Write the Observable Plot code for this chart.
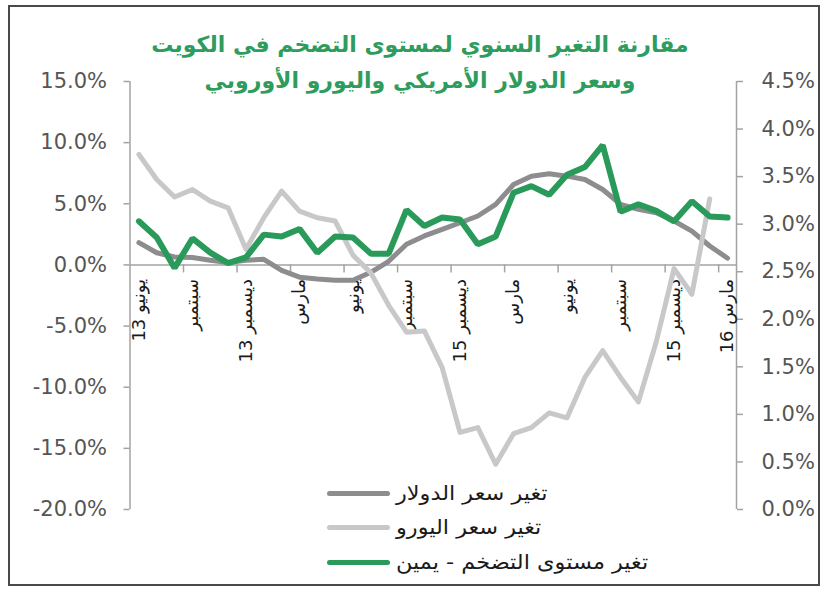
<!DOCTYPE html>
<html>
<head>
<meta charset="utf-8">
<script src="https://cdn.jsdelivr.net/npm/d3@7"></script>
<script src="https://cdn.jsdelivr.net/npm/@observablehq/plot@0.6"></script>
<style>
  html, body { margin: 0; padding: 0; background: #fff; }
  #wrap { position: relative; width: 827px; height: 591px; overflow: hidden; font-family: "DejaVu Sans", sans-serif; }
  #frame { position: absolute; left: 8px; top: 5px; width: 812px; height: 581px; border: 2px solid #4a4a4a; box-sizing: border-box; pointer-events: none; }
  #title { position: absolute; left: 0; width: 840px; top: 27px; text-align: center; color: #2e9c5d; font-weight: bold; font-size: 22px; line-height: 36px; direction: rtl; }
  .lg { position: absolute; left: 327px; height: 24px; display: flex; align-items: center; }
  .sw { width: 63px; height: 5px; border-radius: 3px; margin-right: 6px; }
  .lt { font-size: 20px; color: #1a1a1a; direction: rtl; white-space: nowrap; transform: scaleX(1.12); transform-origin: left center; }
</style>
</head>
<body>
<div id="wrap">
  <div id="chart"></div>
  <div id="title"></div>
  <div id="legend"></div>
  <div id="frame"></div>
</div>
<script>
// ---- data ----
const titleLines = ["مقارنة التغير السنوي لمستوى التضخم في الكويت", "وسعر الدولار الأمريكي واليورو الأوروبي"];
const seriesNames = ["تغير سعر الدولار", "تغير سعر اليورو", "تغير مستوى التضخم - يمين"];
const seriesColors = ["#8d8d8f", "#c8c8ca", "#2a9a5a"];
// monthly, June 2013 .. March 2016 (34 months)
const dollarChange = [1.82, 1.0, 0.65, 0.6, 0.38, 0.19, 0.38, 0.46, -0.45, -1.0, -1.15, -1.25, -1.25, -0.6, 0.3, 1.69, 2.37, 2.91, 3.45, 4.0, 4.95, 6.58, 7.26, 7.45, 7.26, 6.99, 6.17, 4.95, 4.54, 4.27, 3.59, 2.77, 1.55, 0.55];
const euroChange = [9.03, 6.99, 5.55, 6.17, 5.22, 4.67, 1.28, 3.86, 6.04, 4.4, 3.86, 3.59, 0.8, -0.65, -3.3, -5.5, -5.4, -8.4, -13.7, -13.3, -16.3, -13.8, -13.3, -12.1, -12.5, -9.2, -7.0, -9.2, -11.2, -6.3, -0.3, -2.4, 5.4, null];
const inflationChange = [3.03, 2.86, 2.54, 2.85, 2.70, 2.59, 2.65, 2.89, 2.87, 2.95, 2.70, 2.87, 2.86, 2.69, 2.69, 3.15, 2.98, 3.07, 3.05, 2.79, 2.87, 3.33, 3.40, 3.31, 3.52, 3.60, 3.83, 3.13, 3.21, 3.14, 3.03, 3.24, 3.08, 3.07];
const tickLabels = ["يونيو 13", "سبتمبر", "ديسمبر 13", "مارس", "يونيو", "سبتمبر", "ديسمبر 15", "مارس", "يونيو", "سبتمبر", "ديسمبر 15", "مارس 16"];
const leftTicks = [-20, -15, -10, -5, 0, 5, 10, 15];
const rightTicks = [0, 0.5, 1, 1.5, 2, 2.5, 3, 3.5, 4, 4.5];
const leftDomain = [-20, 15];
const rightDomain = [0, 4.5];

// map right-axis values onto the left scale
const toLeft = v => leftDomain[0] + (v - rightDomain[0]) / (rightDomain[1] - rightDomain[0]) * (leftDomain[1] - leftDomain[0]);
const toRight = v => rightDomain[0] + (v - leftDomain[0]) / (leftDomain[1] - leftDomain[0]) * (rightDomain[1] - rightDomain[0]);

const n = dollarChange.length;
const rows = d3.range(n).map(i => ({i, dollar: dollarChange[i], euro: euroChange[i], infl: toLeft(inflationChange[i])}));
const labelRows = tickLabels.map((t, k) => ({i: k * 3, t}));
const boundaries = d3.range(2.5, n - 1, 3);

const axisColor = "#a3a3a3";
const chart = Plot.plot({
  width: 827, height: 591,
  marginLeft: 129.5, marginRight: 91, marginTop: 81, marginBottom: 82,
  x: {type: "linear", domain: [-0.5, n - 0.5], axis: null},
  y: {domain: leftDomain},
  style: {fontFamily: "DejaVu Sans", background: "transparent"},
  marks: [
    Plot.ruleX([-0.5, n - 0.5], {stroke: axisColor, strokeWidth: 1.5}),
    Plot.ruleY([0], {stroke: axisColor, strokeWidth: 1.5}),
    Plot.ruleX(boundaries, {y1: 0, y2: 0, insetBottom: -8, stroke: axisColor, strokeWidth: 1.5}),
    Plot.axisY({anchor: "left", ticks: leftTicks, tickSize: 6, tickPadding: 17, label: null,
      tickFormat: d => d.toFixed(1) + "%", fontSize: 21, stroke: axisColor, strokeWidth: 1.5, fill: "#555"}),
    Plot.axisY({anchor: "right", ticks: rightTicks.map(toLeft), tickSize: 6, tickPadding: 19, label: null,
      tickFormat: d => toRight(d).toFixed(1) + "%", fontSize: 21, stroke: axisColor, strokeWidth: 1.5, fill: "#555"}),
    Plot.text(labelRows, {x: "i", y: () => 0, text: "t", rotate: -90, textAnchor: "end", dy: 14, fontSize: 18, fill: "#1a1a1a"}),
    Plot.line(rows, {x: "i", y: "dollar", stroke: seriesColors[0], strokeWidth: 5, strokeLinejoin: "round"}),
    Plot.line(rows, {x: "i", y: "euro", stroke: seriesColors[1], strokeWidth: 5, strokeLinejoin: "round"}),
    Plot.line(rows, {x: "i", y: "infl", stroke: seriesColors[2], strokeWidth: 6, strokeLinejoin: "miter"})
  ]
});
document.getElementById("chart").appendChild(chart);

document.getElementById("title").innerHTML = titleLines.map(t => `<div>${t}</div>`).join("");
const legendTops = [481, 515, 550];
document.getElementById("legend").innerHTML = seriesNames.map((s, k) =>
  `<div class="lg" style="top:${legendTops[k]}px"><div class="sw" style="background:${seriesColors[k]}"></div><div class="lt">${s}</div></div>`).join("");
</script>
</body>
</html>
